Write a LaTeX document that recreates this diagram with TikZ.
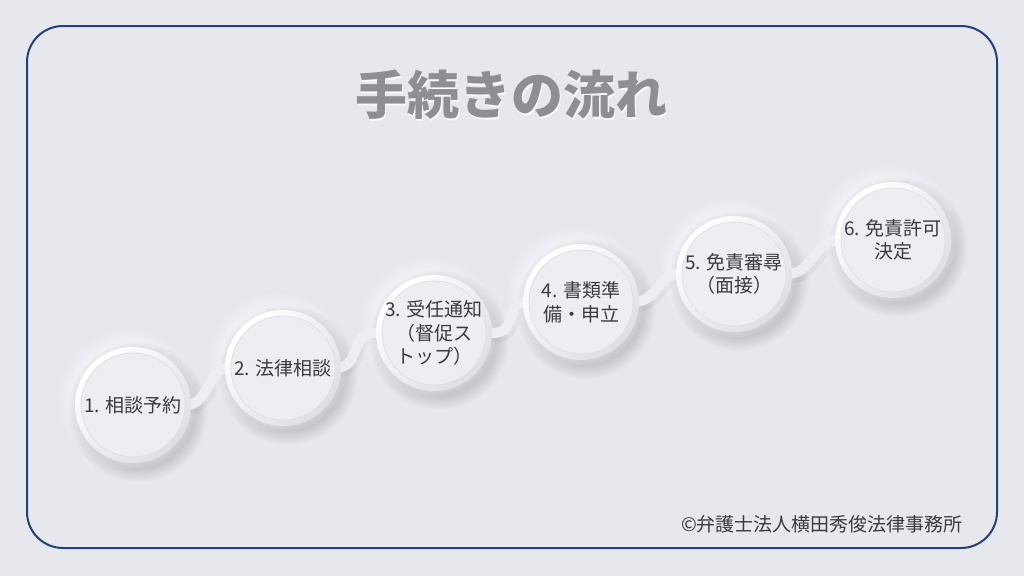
\documentclass[tikz,border=0pt]{standalone}
\usepackage{fontspec}
\newfontfamily\jp{Noto Sans CJK JP}
\usetikzlibrary{positioning}
\pgfdeclarelayer{sfondo}
\pgfdeclarelayer{ombre}
\pgfdeclarelayer{corpi}
\pgfsetlayers{sfondo,ombre,corpi,main}
\definecolor{fondo}{HTML}{E6E8EE}
\definecolor{cornice}{HTML}{23407A}
\definecolor{disco}{HTML}{EDEEF2}
\definecolor{bordo}{HTML}{DDDFE6}
\definecolor{testo}{HTML}{3A3B40}
\definecolor{grigiotitolo}{HTML}{8E8F95}
\tikzset{
  tappa/.style={circle,minimum size=104pt,inner sep=0pt,align=center,
    font=\jp\fontsize{19}{23.5}\selectfont,text=testo},
  titolo/.style={font=\jp\bfseries\fontsize{52}{52}\selectfont},
  collegamento/.style={line width=10pt,line cap=round},
}
\begin{document}
\begin{tikzpicture}[x=1pt,y=-1pt]
        %sfondo
        \begin{pgfonlayer}{sfondo}
        \fill[fondo] (0,0) rectangle (1024,576);
        \end{pgfonlayer}
        \useasboundingbox (0,0) rectangle (1024,576);
        %cornice
        \draw[cornice,line width=2pt,rounded corners=36pt] (27,26) rectangle (997,548);
        % Titolo in rilievo
        \node[titolo,text=white,opacity=0.8] at (512.5,96.5) {手続きの流れ};
        \node[titolo,text=grigiotitolo] (tit) at (511,95) {手続きの流れ};
        % Tappe
        \node[tappa] (t1) at (133,405) {1. 相談予約};
        \node[tappa] (t2) at (283,368) {2. 法律相談};
        \node[tappa] (t3) at (434,333) {3. 受任通知\\（督促ス\\トップ）};
        \node[tappa] (t4) at (581,302) {4. 書類準\\備・申立};
        \node[tappa] (t5) at (734,274) {5. 免責審尋\\（面接）};
        \node[tappa] (t6) at (893,240) {6. 免責許可\\決定};
        % Ombre e luci
        \begin{pgfonlayer}{ombre}
        \foreach \a/\b in {t1/t2,t2/t3,t3/t4,t4/t5,t5/t6}
          \draw[collegamento,bordo,line width=13pt] ([shift={(2,3)}]\a.east) .. controls +(26,0) and +(-26,0) .. ([shift={(2,3)}]\b.west);
        \foreach \t in {t1,t2,t3,t4,t5,t6}{
          \foreach \k in {1,...,8}{
            \fill[white,opacity=0.08] ([shift={(-5,-6)}]\t.center) circle ({56+\k*1.7});
            \fill[black,opacity=0.014] ([shift={(5,7)}]\t.center) circle ({56+\k*1.7});
          }
        }
        \end{pgfonlayer}
        % Corpi
        \begin{pgfonlayer}{corpi}
        \foreach \a/\b in {t1/t2,t2/t3,t3/t4,t4/t5,t5/t6}
          \draw[collegamento,disco] (\a.east) .. controls +(26,0) and +(-26,0) .. (\b.west);
        \foreach \t in {t1,t2,t3,t4,t5,t6}{
          \shade[top color=white,bottom color=bordo,shading angle=45] (\t.center) circle (58);
          \fill[disco] (\t.center) circle (52);
          \draw[bordo,line width=0.7pt] (\t.center) circle (52);
        }
        \end{pgfonlayer}
        % Copyright
        \node[font=\jp\fontsize{19}{24}\selectfont,text=testo] (copy) at (822,524) {©弁護士法人横田秀俊法律事務所};
\end{tikzpicture}
\end{document}
